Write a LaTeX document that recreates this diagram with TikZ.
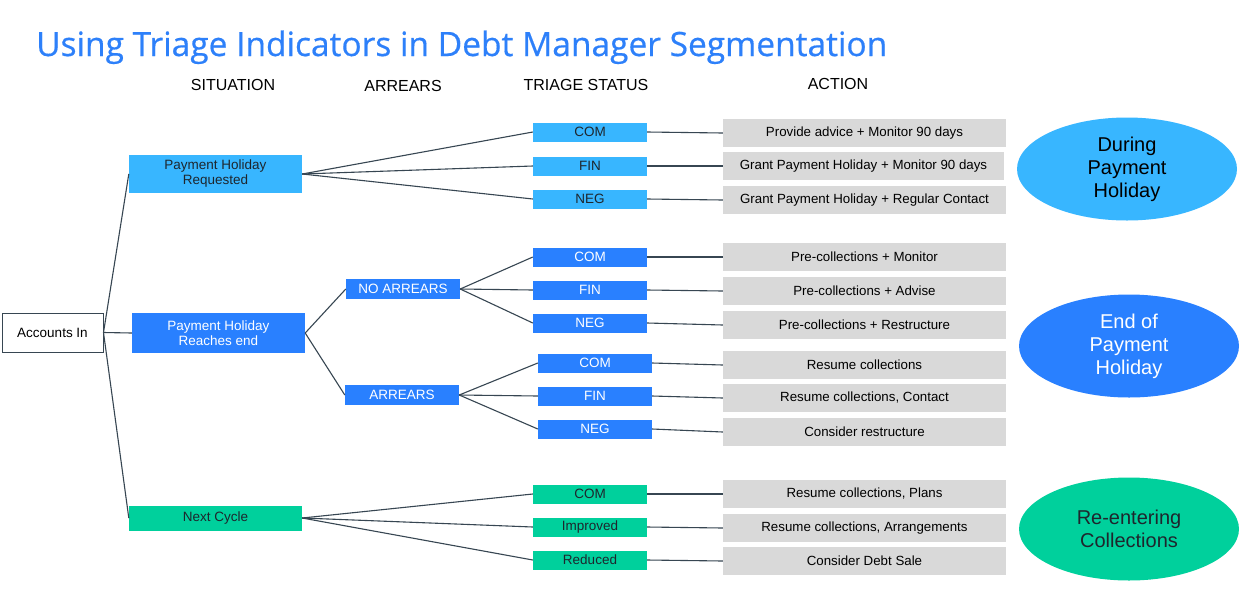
\documentclass[tikz,border=0pt]{standalone}
\usepackage{fontspec}
\setmainfont{Liberation Sans}
\newfontfamily\titlefont[FakeBold=0.5]{Open Sans}
\usetikzlibrary{shapes.geometric}
\definecolor{lblue}{RGB}{56,182,255}
\definecolor{mblue}{RGB}{41,128,255}
\definecolor{mgreen}{RGB}{0,208,156}
\definecolor{agrey}{RGB}{217,217,217}
\definecolor{linec}{RGB}{55,70,82}
\definecolor{titleblue}{RGB}{45,128,250}
\definecolor{darktext}{RGB}{30,38,45}
\tikzset{
  base/.style={inner sep=0pt, align=center, font=\fontsize{13.5}{15}\selectfont},
  sitbox/.style={base, minimum width=173pt, minimum height=38pt},
  tribox/.style={base, minimum width=114pt, minimum height=19pt, font=\fontsize{13.5}{15}\selectfont},
  actbox/.style={base, fill=agrey, minimum width=283pt, minimum height=28pt, text=black, font=\fontsize{13.3}{15}\selectfont},
  ellnode/.style={ellipse, inner sep=0pt, align=center, minimum width=220pt, minimum height=103pt, font=\fontsize{20}{23}\selectfont},
  hdr/.style={inner sep=0pt, font=\fontsize{16}{18}\selectfont},
  link/.style={draw=linec, line width=1.1pt},
  lb/.style={fill=lblue, text=darktext},
  mb/.style={fill=mblue, text=white},
  gr/.style={fill=mgreen, text=darktext},
}
\begin{document}
\begin{tikzpicture}[x=1pt,y=-1pt]
\useasboundingbox (0,0) rectangle (1245,614);
\fill[white] (0,0) rectangle (1245,614);
% title and headers
\node[anchor=base west, inner sep=0pt, text=titleblue, font=\titlefont\fontsize{33.5}{38}\selectfont] (title) at (36,56) {Using Triage Indicators in Debt Manager Segmentation};
\node[hdr] (h1) at (233,85) {SITUATION};
\node[hdr] (h2) at (403,86) {ARREARS};
\node[hdr] (h3) at (586,85) {TRIAGE STATUS};
\node[hdr] (h4) at (838,84) {ACTION};
% situation
\node[base, draw=linec, line width=1pt, fill=white, minimum width=101pt, minimum height=39pt] (ai) at (52.5,332.5) {Accounts In};
\node[sitbox, lb] (phr) at (215.5,174) {Payment Holiday\\Requested};
\node[sitbox, mb, minimum height=40pt] (phe) at (218.5,333) {Payment Holiday\\Reaches end};
\node[sitbox, gr, minimum height=25pt] (nc) at (215.5,518) {Next Cycle};
% arrears
\node[tribox, mb, minimum height=20pt] (na) at (403,289) {NO ARREARS};
\node[tribox, mb, minimum height=20pt] (ar) at (402,395) {ARREARS};
% triage
\node[tribox, lb] (t1) at (590,132) {COM};
\node[tribox, lb] (t2) at (590,166) {FIN};
\node[tribox, lb] (t3) at (590,199) {NEG};
\node[tribox, mb] (t4) at (590,257) {COM};
\node[tribox, mb] (t5) at (590,290) {FIN};
\node[tribox, mb] (t6) at (590,323) {NEG};
\node[tribox, mb] (t7) at (595,363) {COM};
\node[tribox, mb] (t8) at (595,396) {FIN};
\node[tribox, mb] (t9) at (595,429) {NEG};
\node[tribox, gr] (t10) at (590,494) {COM};
\node[tribox, gr] (t11) at (590,527) {Improved};
\node[tribox, gr] (t12) at (590,560) {Reduced};
% actions
\node[actbox] (a1) at (864.5,133) {Provide advice + Monitor 90 days};
\node[actbox, minimum width=281pt] (a2) at (863.5,166) {Grant Payment Holiday + Monitor 90 days};
\node[actbox] (a3) at (864.5,200) {Grant Payment Holiday + Regular Contact};
\node[actbox] (a4) at (864.5,257) {Pre-collections + Monitor};
\node[actbox] (a5) at (864.5,291) {Pre-collections + Advise};
\node[actbox] (a6) at (864.5,325) {Pre-collections + Restructure};
\node[actbox] (a7) at (864.5,365) {Resume collections};
\node[actbox] (a8) at (864.5,398) {Resume collections, Contact};
\node[actbox] (a9) at (864.5,432) {Consider restructure};
\node[actbox] (a10) at (864.5,494) {Resume collections, Plans};
\node[actbox] (a11) at (864.5,528) {Resume collections, Arrangements};
\node[actbox] (a12) at (864.5,561) {Consider Debt Sale};
% phases
\node[ellnode, fill=lblue, text=black] (e1) at (1127,169) {During\\Payment\\Holiday};
\node[ellnode, fill=mblue, text=white] (e2) at (1129,346) {End of\\Payment\\Holiday};
\node[ellnode, fill=mgreen, text=darktext] (e3) at (1129,529) {Re-entering\\Collections};
% connectors
\draw[link] (ai.east) -- (phr.west);
\draw[link] (ai.east) -- (phe.west);
\draw[link] (ai.east) -- (nc.west);
\draw[link] (phr.east) -- (t1.west);
\draw[link] (phr.east) -- (t2.west);
\draw[link] (phr.east) -- (t3.west);
\draw[link] (phe.east) -- (na.west);
\draw[link] (phe.east) -- (ar.west);
\draw[link] (na.east) -- (t4.west);
\draw[link] (na.east) -- (t5.west);
\draw[link] (na.east) -- (t6.west);
\draw[link] (ar.east) -- (t7.west);
\draw[link] (ar.east) -- (t8.west);
\draw[link] (ar.east) -- (t9.west);
\draw[link] (nc.east) -- (t10.west);
\draw[link] (nc.east) -- (t11.west);
\draw[link] (nc.east) -- (t12.west);
\foreach \i in {1,...,12} {\draw[link] (t\i.east) -- (a\i.west);}
\end{tikzpicture}
\end{document}
